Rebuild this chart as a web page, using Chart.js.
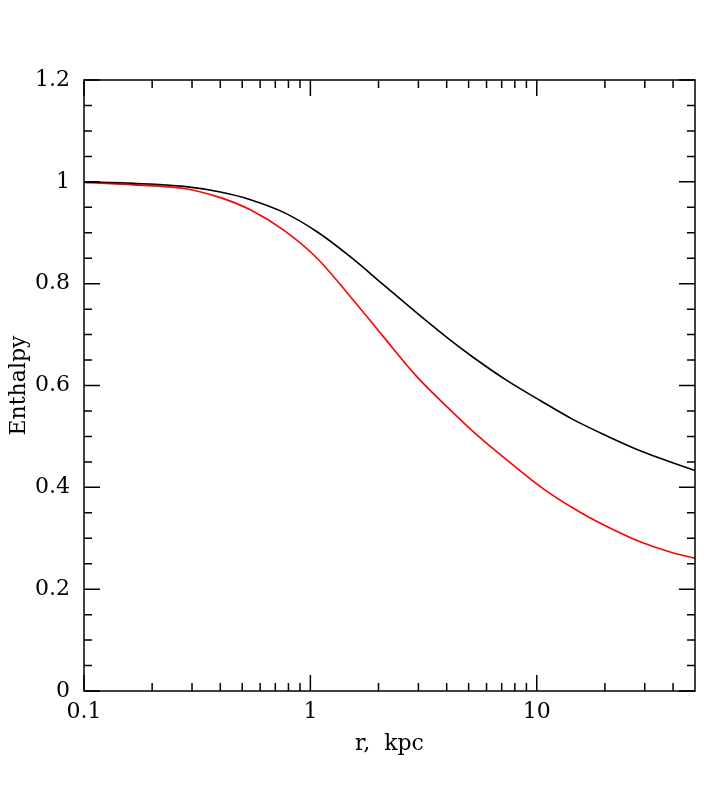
<!DOCTYPE html>
<html>
<head>
<meta charset="utf-8">
<script src="https://cdn.jsdelivr.net/npm/chart.js@4.4.1/dist/chart.umd.min.js"></script>
<style>
  html, body { margin: 0; padding: 0; background: #fff; }
  #wrap { width: 719px; height: 789px; }
</style>
</head>
<body>
<div id="wrap"><canvas id="myChart" width="719" height="789"></canvas></div>
<script>
const radius = [0.1, 0.166, 0.276, 0.4, 0.543, 0.762, 1.07, 1.5, 2.1, 2.96, 4.15, 5.25, 7.37, 10.4, 14.5, 20.4, 28.6, 40.1, 50];
const enthalpyBlack = [1.0, 0.997, 0.991, 0.980, 0.965, 0.940, 0.902, 0.853, 0.798, 0.742, 0.689, 0.655, 0.610, 0.570, 0.533, 0.501, 0.472, 0.448, 0.433];
const enthalpyRed = [0.999, 0.994, 0.987, 0.969, 0.945, 0.905, 0.850, 0.775, 0.696, 0.617, 0.552, 0.509, 0.454, 0.401, 0.359, 0.323, 0.293, 0.271, 0.261];

// tick positions
const xMajorTicks = [0.1, 1, 10];
const xMinorTicks = [0.2, 0.3, 0.4, 0.5, 0.6, 0.7, 0.8, 0.9, 2, 3, 4, 5, 6, 7, 8, 9, 20, 30, 40];
const yMajorTicks = [0, 0.2, 0.4, 0.6, 0.8, 1, 1.2];
const yMinorTicks = [0.05, 0.1, 0.15, 0.25, 0.3, 0.35, 0.45, 0.5, 0.55, 0.65, 0.7, 0.75, 0.85, 0.9, 0.95, 1.05, 1.1, 1.15];

const serif = "'DejaVu Serif', serif";

const toPoints = (ys) => radius.map((r, i) => ({ x: r, y: ys[i] }));

// frame + inward ticks on all four sides
const frameTicks = {
  id: 'frameTicks',
  afterDraw(chart) {
    const { ctx, chartArea: a, scales: { x, y } } = chart;
    const major = 16, minor = 8;
    ctx.save();
    ctx.strokeStyle = '#000';
    ctx.lineWidth = 1.5;
    ctx.strokeRect(a.left, a.top, a.right - a.left, a.bottom - a.top);
    ctx.beginPath();
    const xTick = (v, len) => {
      const px = x.getPixelForValue(v);
      ctx.moveTo(px, a.bottom); ctx.lineTo(px, a.bottom - len);
      ctx.moveTo(px, a.top); ctx.lineTo(px, a.top + len);
    };
    const yTick = (v, len) => {
      const py = y.getPixelForValue(v);
      ctx.moveTo(a.left, py); ctx.lineTo(a.left + len, py);
      ctx.moveTo(a.right, py); ctx.lineTo(a.right - len, py);
    };
    xMajorTicks.forEach(v => xTick(v, major));
    xMinorTicks.forEach(v => xTick(v, minor));
    yMajorTicks.forEach(v => yTick(v, major));
    yMinorTicks.forEach(v => yTick(v, minor));
    ctx.stroke();
    ctx.restore();
  }
};

const config = {
  type: 'line',
  data: {
    datasets: [
      {
        label: 'black',
        data: toPoints(enthalpyBlack),
        borderColor: '#000000',
        borderWidth: 1.6,
        pointRadius: 0,
        cubicInterpolationMode: 'monotone',
      },
      {
        label: 'red',
        data: toPoints(enthalpyRed),
        borderColor: '#ff0000',
        borderWidth: 1.6,
        pointRadius: 0,
        cubicInterpolationMode: 'monotone',
      },
    ],
  },
  options: {
    responsive: false,
    animation: false,
    devicePixelRatio: 1,
    layout: { padding: { left: 0, top: 80, right: 24, bottom: 0 } },
    plugins: {
      legend: { display: false },
      tooltip: { enabled: false },
    },
    scales: {
      x: {
        type: 'logarithmic',
        min: 0.1,
        max: 50,
        grid: { display: false, drawTicks: false },
        border: { display: false },
        afterBuildTicks: (scale) => {
          scale.ticks = xMajorTicks.map(v => ({ value: v }));
        },
        afterFit: (scale) => { scale.height = 98; },
        ticks: {
          padding: 8,
          color: '#000',
          maxRotation: 0,
          autoSkip: false,
          font: { family: serif, size: 22 },
          callback: (v) => String(v),
        },
        title: {
          display: true,
          text: 'r,  kpc',
          color: '#000',
          font: { family: serif, size: 22 },
          padding: { top: 0, bottom: 32 },
        },
      },
      y: {
        min: 0,
        max: 1.2,
        grid: { display: false, drawTicks: false },
        border: { display: false },
        afterBuildTicks: (scale) => {
          scale.ticks = yMajorTicks.map(v => ({ value: v }));
        },
        afterFit: (scale) => { scale.width = 84; },
        ticks: {
          padding: 14,
          color: '#000',
          font: { family: serif, size: 22 },
          callback: (v) => String(Math.round(v * 10) / 10),
        },
        title: {
          display: true,
          text: 'Enthalpy',
          color: '#000',
          font: { family: serif, size: 22 },
          padding: { top: 6, bottom: 0 },
        },
      },
    },
  },
  plugins: [frameTicks],
};

const canvas = document.getElementById('myChart');
const myChart = new Chart(canvas, config);
</script>
</body>
</html>
